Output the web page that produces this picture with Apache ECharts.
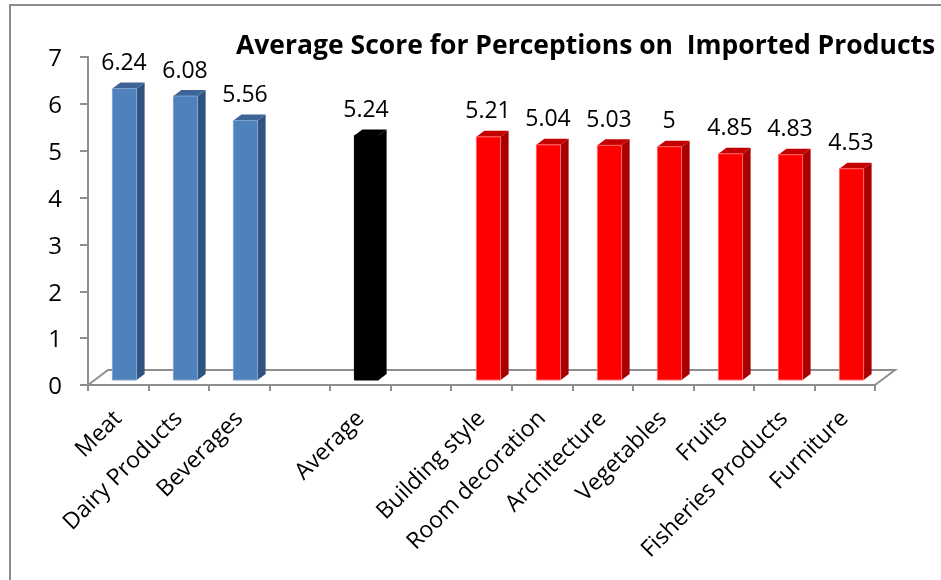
<!DOCTYPE html>
<html><head><meta charset="utf-8">
<style>html,body{margin:0;padding:0;background:#fff}#c{width:941px;height:580px}</style>
<script src="https://cdn.jsdelivr.net/npm/echarts@6/dist/echarts.min.js"></script>
</head><body><div id="c"></div>
<script>
const categories = ['Meat','Dairy Products','Beverages','','Average','','Building style','Room decoration','Architecture','Vegetables','Fruits','Fisheries Products','Furniture'];
const values = [6.24,6.08,5.56,null,5.24,null,5.21,5.04,5.03,5,4.85,4.83,4.53];
const labels = ['6.24','6.08','5.56','','5.24','','5.21','5.04','5.03','5','4.85','4.83','4.53'];
const groups = ['blue','blue','blue','','black','','red','red','red','red','red','red','red'];
const yTicks = [0,1,2,3,4,5,6,7];
const titleText = 'Average Score for Perceptions on  Imported Products';
const palette = {
  blue:{front:'#4F81BD',side:'#30527F',top:'#3C6497',edge:'#7FA3CF'},
  red:{front:'#FF0000',side:'#A80000',top:'#C40000',edge:'#FF6666'},
  black:{front:'#000000',side:'#000000',top:'#000000',edge:'#000000'}
};
const font = '"Open Sans","Noto Sans",sans-serif';
const gray = '#8E8E8E';
const chart = echarts.init(document.getElementById('c'),null,{renderer:'canvas'});

function renderBar(params, api){
  const i = api.value(0), v = api.value(1);
  const p0 = api.coord([i,0]), p1 = api.coord([i,v]);
  const band = api.size([1,0])[0];
  const w = band*0.4, cx = Math.round(p0[0]+6)+0.5, dx = 8, dy = 6, lift = 5;
  const xl = cx-w/2, xr = cx+w/2, yb = p0[1]-lift, yt = p1[1]-4;
  const c = palette[groups[i]];
  const kids = [
    {type:'polygon',shape:{points:[[xr,yb],[xr+dx,yb-dy],[xr+dx,yt-dy],[xr,yt]]},style:{fill:c.side}},
    {type:'polygon',shape:{points:[[xl,yt],[xl+dx,yt-dy],[xr+dx,yt-dy],[xr,yt]]},style:{fill:c.top}},
    {type:'rect',shape:{x:xl,y:yt,width:w,height:yb-yt},style:{fill:c.front,stroke:c.edge,lineWidth:1}},
    {type:'text',style:{text:labels[i],x:cx-0.5,y:yt-25,align:'center',verticalAlign:'middle',font:'23px '+font,fill:'#000'}}
  ];
  return {type:'group',children:kids};
}
function renderFloor(params, api){
  const band = api.size([1,0])[0];
  const c0 = api.coord([0,0]), c1 = api.coord([categories.length-1,0]);
  const a = [c0[0]-band/2,c0[1]], b = [c1[0]+band/2,c1[1]];
  const dx=20, dy=15;
  return {type:'polyline',shape:{points:[a,[a[0]+dx,a[1]-dy],[b[0]+dx,b[1]-dy],b]},style:{fill:'none',stroke:gray,lineWidth:2},silent:true};
}

chart.setOption({
  animation:false,
  backgroundColor:'#fff',
  textStyle:{fontFamily:font},
  title:{text:titleText,left:231,top:28,textStyle:{fontFamily:font,fontSize:26.5,fontWeight:'bold',color:'#000'}},
  grid:{left:88,right:66,top:57,bottom:195},
  xAxis:{type:'category',data:categories,boundaryGap:true,
    axisLine:{lineStyle:{color:gray,width:2}},
    axisTick:{show:true,alignWithLabel:false,interval:0,length:6,lineStyle:{color:gray,width:2}},
    axisLabel:{interval:0,rotate:45,fontSize:23,fontFamily:font,color:'#000',margin:30}},
  yAxis:{type:'value',min:0,max:7,interval:1,
    axisLine:{show:true,lineStyle:{color:gray,width:2}},
    axisTick:{show:true,length:8,lineStyle:{color:gray,width:2}},
    splitLine:{show:false},
    axisLabel:{fontSize:24,fontFamily:font,color:'#000',margin:26,
      rich:{n:{fontSize:24,fontFamily:font,color:'#000',padding:[5,0,0,0]}},
      formatter:v=>yTicks.includes(v)?'{n|'+v+'}':''}},
  series:[
    {type:'custom',name:'floor',renderItem:renderFloor,data:[[0,0]],encode:{x:0,y:1},z:1,silent:true,clip:false},
    {type:'custom',name:'score',renderItem:renderBar,z:3,encode:{x:0,y:1},
     data:values.map((v,i)=>[i,v]).filter(d=>d[1]!==null)}
  ],
  graphic:[{type:'polyline',shape:{points:[[10,580],[10,5],[941,5]]},style:{fill:'none',stroke:'#8C8C8C',lineWidth:2},silent:true}]
});
</script></body></html>
